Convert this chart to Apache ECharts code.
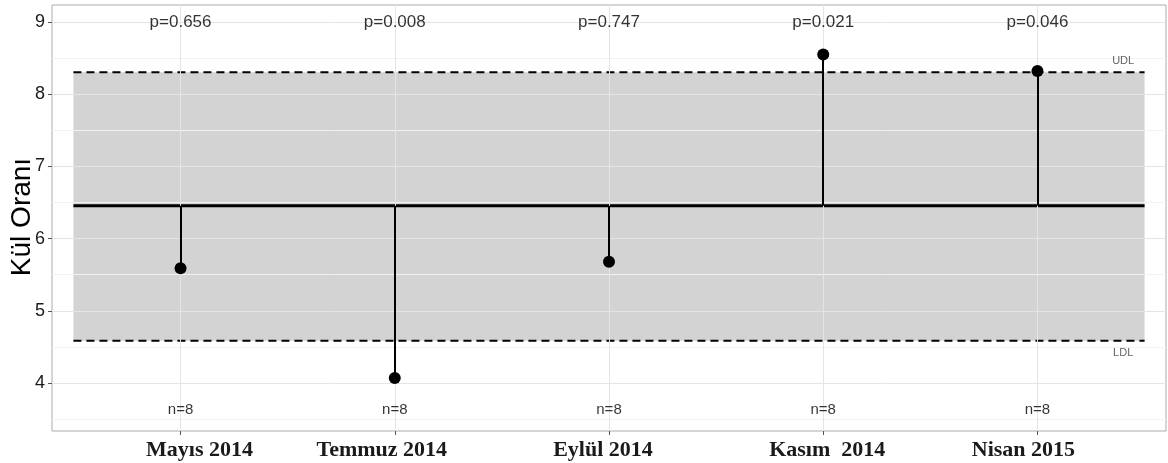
<!DOCTYPE html>
<html>
<head>
<meta charset="utf-8">
<script src="https://cdn.jsdelivr.net/npm/echarts@6/dist/echarts.min.js"></script>
<style>html,body{margin:0;padding:0;background:#fff;}#c{width:1168px;height:463px;}</style>
</head>
<body>
<div id="c"></div>
<script>
const categories = ['Mayıs 2014', 'Temmuz 2014', 'Eylül 2014', 'Kasım  2014', 'Nisan 2015'];
const values = [5.59, 4.07, 5.68, 8.55, 8.32];
const pLabels = ['p=0.656', 'p=0.008', 'p=0.747', 'p=0.021', 'p=0.046'];
const nLabels = ['n=8', 'n=8', 'n=8', 'n=8', 'n=8'];
const centerLine = 6.455;
const UDL = 8.305;
const LDL = 4.585;
const yTicks = [4, 5, 6, 7, 8, 9];
const yMinor = [3.5, 4.5, 5.5, 6.5, 7.5, 8.5];
const yTitle = 'Kül Oranı';

const xs = categories.map((c, i) => i + 1);
const black = '#000';

// horizontal nudge (px) of each x-axis label relative to its tick, as in the reference
const xLabelNudge = [19, -13, -6, 4, -14];
const rich = {};
xLabelNudge.forEach((d, i) => {
  rich['c' + i] = {
    fontFamily: '"Liberation Serif", "Times New Roman", serif',
    fontWeight: 'bold', fontSize: 22, color: '#1a1a1a',
    padding: d >= 0 ? [0, 0, 0, 2 * d] : [0, -2 * d, 0, 0]
  };
});

const chart = echarts.init(document.getElementById('c'), null, {renderer: 'canvas'});
const option = {
  animation: false,
  backgroundColor: '#fff',
  grid: {left: 52, right: 2, top: 5, bottom: 32, containLabel: false, outerBoundsMode: 'none',
    show: true, borderColor: '#ababab', borderWidth: 1, backgroundColor: '#fff'},
  graphic: [{
    type: 'text', x: 22, y: 217, rotation: Math.PI / 2, silent: true,
    style: {text: yTitle, font: '28px "Liberation Sans", Arial, sans-serif', fill: '#000',
      align: 'center', verticalAlign: 'middle'}
  }],
  xAxis: {
    type: 'value', min: 0.4, max: 5.6,
    axisLine: {show: false},
    splitLine: {show: false},
    axisTick: {show: true, customValues: xs, length: 4, lineStyle: {color: '#555'}},
    axisLabel: {
      customValues: xs, margin: 8,
      formatter: v => {
        const i = Math.round(v) - 1;
        return categories[i] ? '{c' + i + '|' + categories[i] + '}' : '';
      },
      rich: rich,
      fontFamily: '"Liberation Serif", "Times New Roman", serif',
      fontWeight: 'bold', fontSize: 22, color: '#1a1a1a'
    }
  },
  yAxis: {
    type: 'value', min: 3.335, max: 9.235,
    axisLine: {show: false},
    splitLine: {show: false},
    axisTick: {show: true, customValues: yTicks, length: 4, lineStyle: {color: '#555'}},
    axisLabel: {customValues: yTicks, margin: 7, fontFamily: '"Liberation Sans", Arial, sans-serif', fontSize: 18, color: '#1a1a1a'}
  },
  series: [
    {
      name: 'band', type: 'line', data: [], z: 1, silent: true,
      markArea: {
        silent: true,
        itemStyle: {color: '#d3d3d3'},
        data: [[{coord: [0.5, LDL]}, {coord: [5.5, UDL]}]]
      }
    },
    {
      name: 'grid', type: 'line', data: [], z: 2, silent: true,
      markLine: {
        silent: true, symbol: 'none', label: {show: false}, animation: false,
        data: [
          ...yMinor.map(v => ({yAxis: v, lineStyle: {color: '#f2f2f2', width: 1, type: 'solid'}})),
          ...yTicks.map(v => ({yAxis: v, lineStyle: {color: '#e4e4e4', width: 1, type: 'solid'}})),
          ...xs.map(v => ({xAxis: v, lineStyle: {color: '#e4e4e4', width: 1, type: 'solid'}}))
        ]
      }
    },
    {
      name: 'UDL', type: 'line', z: 3, silent: true, symbol: 'none',
      data: [[0.5, UDL], [5.5, UDL]],
      lineStyle: {color: black, width: 2, type: [8, 5]}
    },
    {
      name: 'LDL', type: 'line', z: 3, silent: true, symbol: 'none',
      data: [[0.5, LDL], [5.5, LDL]],
      lineStyle: {color: black, width: 2, type: [8, 5]}
    },
    {
      name: 'center', type: 'line', z: 3, silent: true, symbol: 'none',
      data: [[0.5, centerLine], [5.5, centerLine]],
      lineStyle: {color: black, width: 3}
    },
    {
      name: 'stems', type: 'line', data: [], z: 4, silent: true,
      markLine: {
        silent: true, symbol: 'none', label: {show: false},
        lineStyle: {color: black, width: 2, type: 'solid'},
        data: values.map((v, i) => [{coord: [xs[i], centerLine]}, {coord: [xs[i], v]}])
      }
    },
    {
      name: 'points', type: 'scatter', z: 5, symbol: 'circle', symbolSize: 12,
      itemStyle: {color: black, opacity: 1},
      data: values.map((v, i) => [xs[i], v])
    },
    {
      name: 'p', type: 'scatter', z: 5, symbolSize: 0, silent: true,
      data: pLabels.map((t, i) => ({value: [xs[i], 9.0], name: t})),
      label: {show: true, position: 'inside', formatter: p => p.name, fontFamily: '"Liberation Sans", Arial, sans-serif', fontSize: 17, color: '#000'}
    },
    {
      name: 'n', type: 'scatter', z: 5, symbolSize: 0, silent: true,
      data: nLabels.map((t, i) => ({value: [xs[i], 3.63], name: t})),
      label: {show: true, position: 'inside', formatter: p => p.name, fontFamily: '"Liberation Sans", Arial, sans-serif', fontSize: 15, color: '#000'}
    },
    {
      name: 'limLabels', type: 'scatter', z: 5, symbolSize: 0, silent: true,
      data: [
        {value: [5.4, UDL], name: 'UDL', label: {offset: [0, -11]}},
        {value: [5.4, LDL], name: 'LDL', label: {offset: [0, 12]}}
      ],
      label: {show: true, position: 'inside', formatter: p => p.name, fontFamily: '"Liberation Sans", Arial, sans-serif', fontSize: 11, color: '#3a3a3a'}
    }
  ]
};
chart.setOption(option);
</script>
</body>
</html>
